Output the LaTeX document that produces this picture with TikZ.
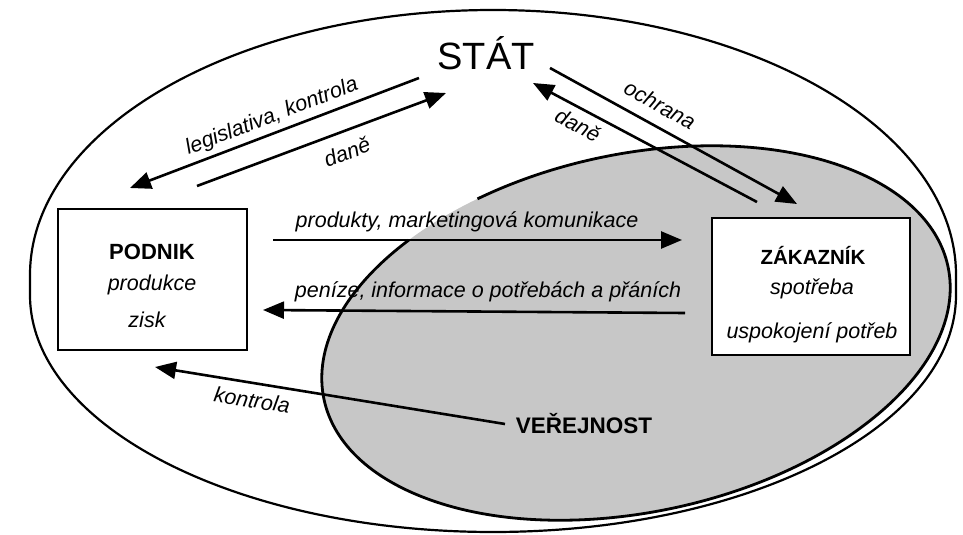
\documentclass[tikz,border=0pt]{standalone}
\usepackage{fontspec}
\setmainfont{Liberation Sans}
\usetikzlibrary{arrows.meta}
\definecolor{stipple}{gray}{0.78}
\begin{document}
\begin{tikzpicture}[x=1bp,y=1bp,
  rim/.style={line width=2.2bp, black},
  boxed/.style={draw, fill=white, line width=2.4bp, inner sep=0pt},
  flow/.style={line width=2.6bp, -{Triangle[length=21bp,width=17bp]}},
  lbl/.style={font=\fontsize{21.5bp}{26bp}\selectfont\itshape, inner sep=0pt},
  bold/.style={font=\fontsize{21.5bp}{26bp}\selectfont\bfseries, inner sep=0pt},
  title/.style={font=\fontsize{38bp}{44bp}\selectfont, inner sep=0pt}
]
\useasboundingbox (0,0) rectangle (963,-535);
% outer oval
\draw[rim] (30,-275) arc[start angle=180, end angle=0, x radius=463, y radius=265]
  -- (956,-295) arc[start angle=0, end angle=-180, x radius=463, y radius=237] -- cycle;
% inner (public) ellipse
\fill[stipple, rotate around={12:(636,-333)}] (636,-333) ellipse [x radius=319, y radius=179];
\draw[line width=2.8bp, shift={(636,-333)}, rotate=12]
  (129.5:319 and 179) arc[start angle=129.5, end angle=473.5, x radius=319, y radius=179];
% boxes
\node[boxed, minimum width=189bp, minimum height=141bp] (podnik) at (152.5,-279.5) {};
\node[boxed, minimum width=198bp, minimum height=137bp] (zakaznik) at (811,-286.5) {};
% texts
\node[title, anchor=base] (stat) at (486,-70) {STÁT};
\node[bold, font=\fontsize{22bp}{26bp}\selectfont\bfseries, anchor=base] (podnikT) at (152,-260) {PODNIK};
\node[lbl, anchor=base] (produkce) at (152,-291) {produkce};
\node[lbl, anchor=base] (zisk) at (147,-328) {zisk};
\node[bold, font=\fontsize{20.5bp}{26bp}\selectfont\bfseries, anchor=base] (zakT) at (813,-265) {ZÁKAZNÍK};
\node[lbl, anchor=base] (spotreba) at (812,-295) {spotřeba};
\node[lbl, anchor=base] (uspok) at (812,-339) {uspokojení potřeb};
\node[bold, font=\fontsize{22.5bp}{26bp}\selectfont\bfseries, anchor=base] (verej) at (584,-433) {VEŘEJNOST};
% arrow end points
\coordinate (a1s) at (419,-78);  \coordinate (a1e) at (130,-188);
\coordinate (a2s) at (197,-186); \coordinate (a2e) at (446,-93);
\coordinate (a3s) at (757,-202); \coordinate (a3e) at (533,-83);
\coordinate (a4s) at (550,-68);  \coordinate (a4e) at (797,-204);
\coordinate (a5s) at (273,-240); \coordinate (a5e) at (682,-240);
\coordinate (a6s) at (685,-313); \coordinate (a6e) at (263,-310);
\coordinate (a7s) at (505,-424); \coordinate (a7e) at (155,-367);
% arrows
\draw[flow] (a1s) -- (a1e);
\draw[flow] (a2s) -- (a2e);
\draw[flow] (a3s) -- (a3e);
\draw[flow] (a4s) -- (a4e);
\draw[flow] (a5s) -- (a5e);
\draw[flow] (a6s) -- (a6e);
\draw[flow] (a7s) -- (a7e);
% arrow labels
\node[lbl, rotate=21] (l1) at (272,-117) {legislativa, kontrola};
\node[lbl, rotate=21] (l2) at (347,-152) {daně};
\node[lbl, rotate=-28] (l3) at (578,-125) {daně};
\node[lbl, rotate=-29] (l4) at (660,-105) {ochrana};
\node[lbl, anchor=base] (l5) at (467,-228) {produkty, marketingová komunikace};
\node[lbl, anchor=base] (l6) at (488,-298) {peníze, informace o potřebách a přáních};
\node[lbl, rotate=-9] (l7) at (252,-400) {kontrola};
\end{tikzpicture}
\end{document}
